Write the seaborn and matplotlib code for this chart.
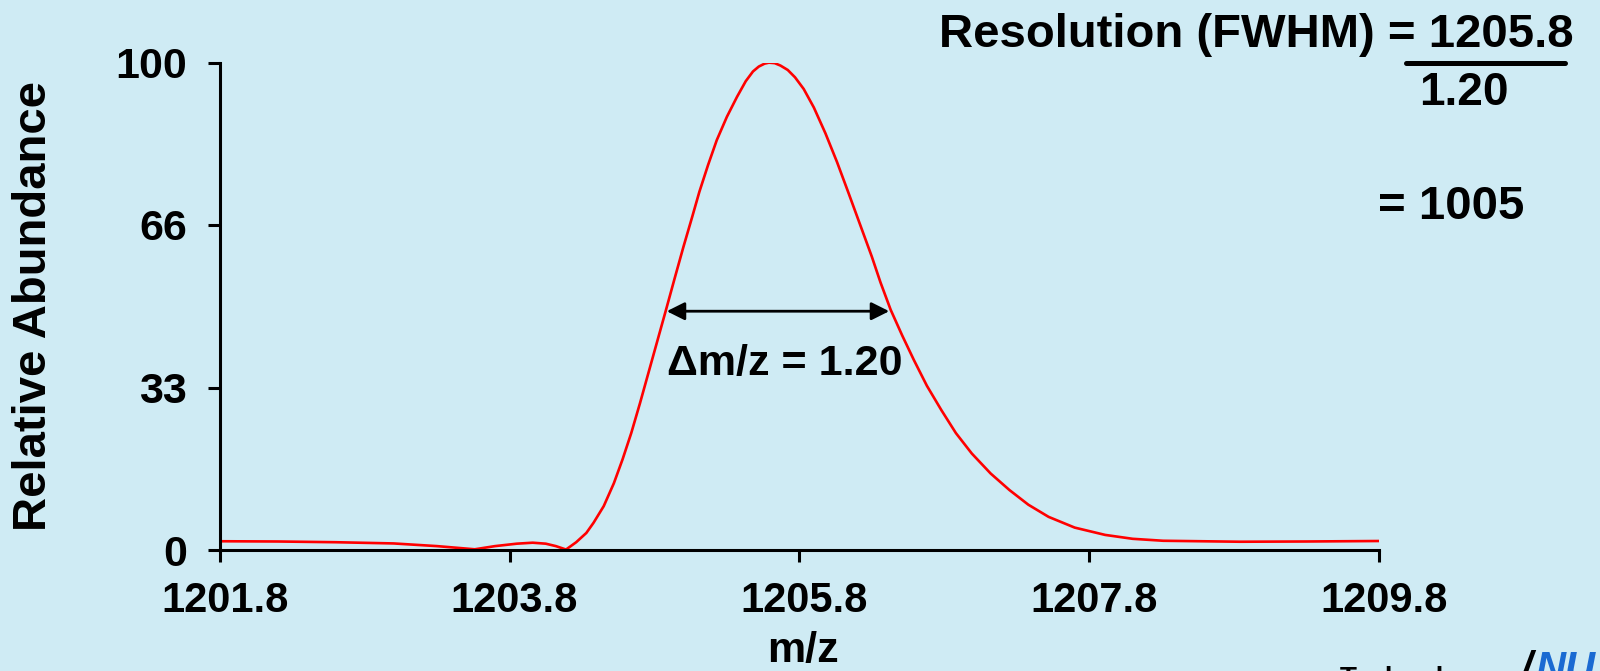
import matplotlib
matplotlib.use("Agg")
import matplotlib.pyplot as plt
from matplotlib.lines import Line2D
from matplotlib.transforms import ScaledTranslation
import seaborn as sns
import pandas as pd

# ---------------- data ----------------
mz = [1201.8, 1202.2, 1202.6, 1203.0, 1203.3, 1203.56, 1203.7, 1203.85, 1203.96,
      1204.05, 1204.12, 1204.19, 1204.26, 1204.33, 1204.38, 1204.45, 1204.52,
      1204.58, 1204.64, 1204.70, 1204.76, 1204.82, 1204.88, 1204.94, 1205.00,
      1205.06, 1205.11, 1205.17, 1205.23, 1205.30, 1205.37, 1205.43, 1205.48,
      1205.52, 1205.56, 1205.59, 1205.63, 1205.67, 1205.72, 1205.77, 1205.83,
      1205.90, 1205.98, 1206.06, 1206.14, 1206.22, 1206.30, 1206.36, 1206.43,
      1206.51, 1206.59, 1206.68, 1206.78, 1206.88, 1206.99, 1207.12, 1207.25,
      1207.38, 1207.52, 1207.70, 1207.91, 1208.10, 1208.31, 1208.84, 1209.30,
      1209.80]
abundance = [1.8, 1.75, 1.6, 1.35, 0.8, 0.15, 0.8, 1.3, 1.5,
             1.3, 0.8, 0.1, 1.6, 3.5, 5.6, 9.0, 13.7,
             18.6, 24.0, 30.1, 36.5, 42.9, 49.3, 55.8, 62.2,
             68.3, 73.5, 79.0, 84.1, 88.9, 93.0, 96.2, 98.2,
             99.2, 99.8, 100.0, 99.9, 99.4, 98.5, 97.0, 94.6,
             90.8, 85.5, 79.6, 73.2, 66.7, 60.2, 54.9, 49.3,
             44.0, 39.0, 33.7, 28.7, 24.0, 19.8, 15.7, 12.3,
             9.3, 6.8, 4.6, 3.1, 2.3, 1.9, 1.7, 1.75,
             1.85]

x_ticks = [1201.8, 1203.8, 1205.8, 1207.8, 1209.8]
x_tick_labels = ["1201.8", "1203.8", "1205.8", "1207.8", "1209.8"]
y_ticks = [0, 33.3, 66.7, 100]
y_tick_labels = ["0", "33", "66", "100"]

fwhm_left = 1204.885
fwhm_right = 1206.42
fwhm_level = 49.0
delta_text = "\u0394m/z = 1.20"
resolution_text = "Resolution (FWHM) = 1205.8"
denominator_text = "1.20"
result_text = "= 1005"

# ---------------- style ----------------
BG = "#CFEBF4"
sns.set_theme(style="ticks")
plt.rcParams["font.family"] = ["Liberation Sans", "DejaVu Sans"]
plt.rcParams["font.weight"] = "bold"
for k in ["text.color", "axes.labelcolor", "xtick.color", "ytick.color",
          "axes.edgecolor"]:
    plt.rcParams[k] = "black"

fig = plt.figure(figsize=(16, 6.71), dpi=100, facecolor=BG)
ax = fig.add_axes([0.1373, 0.1803, 0.7246, 0.7263])
ax.set_facecolor(BG)

df = pd.DataFrame({"mz": mz, "abundance": abundance})
sns.lineplot(data=df, x="mz", y="abundance", color="#FF0000", lw=1.9,
             ax=ax, sort=False)

ax.set_xlim(1201.8, 1209.8)
ax.set_ylim(0, 100)
ax.margins(0)
ax.set_xticks(x_ticks)
ax.set_xticklabels(x_tick_labels, fontsize=30, fontweight="bold", color="black")
ax.set_yticks(y_ticks)
ax.set_yticklabels(y_tick_labels, fontsize=31, fontweight="bold", color="black")
ax.tick_params(axis="both", direction="out", length=8.6, width=2.2,
               color="black", labelcolor="black")
ax.tick_params(axis="x", pad=14)
ax.tick_params(axis="y", pad=15)
shift = ScaledTranslation(5 / 100, 0, fig.dpi_scale_trans)
for lab in ax.get_xticklabels():
    lab.set_transform(lab.get_transform() + shift)
for s in ["top", "right"]:
    ax.spines[s].set_visible(False)
for s in ["left", "bottom"]:
    ax.spines[s].set_linewidth(2.2)
    ax.spines[s].set_color("black")
ax.set_xlabel("")
ax.set_ylabel("")

# FWHM arrow and label
ax.annotate("", xy=(fwhm_left, fwhm_level), xytext=(fwhm_right, fwhm_level),
            arrowprops=dict(arrowstyle="<|-|>", color="black", lw=2.0,
                            mutation_scale=27, shrinkA=0, shrinkB=0))
ax.text(fwhm_left, 38.2, delta_text, ha="left", va="center",
        fontsize=31, fontweight="bold", color="black")

# axis labels
fig.text(34 / 1600, 1 - 306 / 671, "Relative Abundance", rotation=90,
         ha="center", va="center", fontsize=34, fontweight="bold", color="black")
fig.text(803 / 1600, 1 - 651 / 671, "m/z", ha="center", va="center",
         fontsize=31, fontweight="bold", color="black")

# resolution formula
fig.text(1574 / 1600, 1 - 46.7 / 671, resolution_text, ha="right",
         va="baseline", fontsize=34, fontweight="bold", color="black")
fig.add_artist(Line2D([1406 / 1600, 1565 / 1600], [1 - 63 / 671, 1 - 63 / 671],
                      color="black", lw=3.6, transform=fig.transFigure))
fig.text(1419 / 1600, 1 - 105 / 671, denominator_text, ha="left",
         va="baseline", fontsize=33, fontweight="bold", color="black")
fig.text(1378 / 1600, 1 - 219.4 / 671, result_text, ha="left",
         va="baseline", fontsize=34, fontweight="bold", color="black")

# partially visible footer text / logo (cut off at the bottom edge as in the reference)
fig.text(1340 / 1600, 1 - 666 / 671, "Technology", ha="left", va="top",
         fontsize=20, fontweight="bold", color="black")
fig.text(1521 / 1600, 1 - 650 / 671, "/", ha="left", va="top",
         fontsize=30, fontweight="bold", fontstyle="italic", color="black")
fig.text(1535 / 1600, 1 - 650 / 671, "NU", ha="left", va="top",
         fontsize=30, fontweight="bold", fontstyle="italic", color="#1A6AD2")

fig.savefig("out.png", dpi=100, facecolor=BG)
